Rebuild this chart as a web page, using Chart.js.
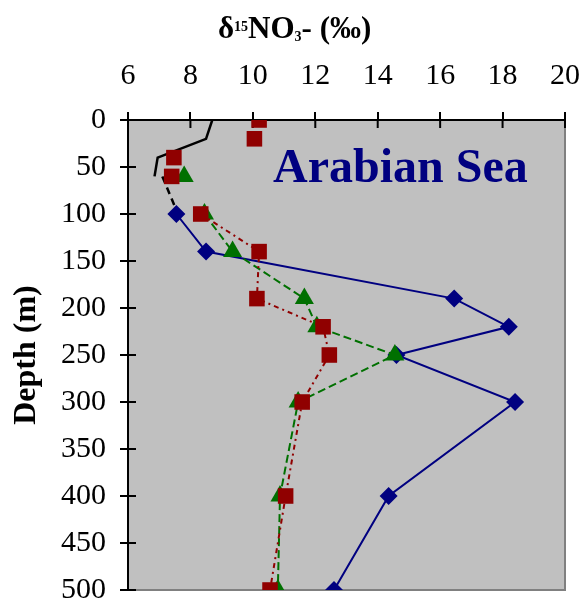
<!DOCTYPE html>
<html>
<head>
<meta charset="utf-8">
<script src="https://cdn.jsdelivr.net/npm/chart.js@4.4.1/dist/chart.umd.min.js"></script>
<style>
  html, body { margin: 0; padding: 0; background: #fff; }
  #wrap { width: 588px; height: 604px; }
</style>
</head>
<body>
<div id="wrap"><canvas id="profile" width="588" height="604"></canvas></div>
<script>
// Nitrate d15N profiles, depth (m) vs per mil
const valueTicks = [6, 8, 10, 12, 14, 16, 18, 20];
const depthTicks = [0, 50, 100, 150, 200, 250, 300, 350, 400, 450, 500];

const blueDepth = [100, 140, 190, 220, 250, 300, 400, 500];
const blueValue = [7.55, 8.5, 16.45, 18.2, 14.6, 18.4, 14.35, 12.6];

const greenDepth = [60, 100, 140, 190, 220, 250, 300, 400, 500];
const greenValue = [7.8, 8.45, 9.35, 11.65, 12.05, 14.55, 11.45, 10.87, 10.8];

const redDepth = [0, 20, 40, 60, 100, 140, 190, 220, 250, 300, 400, 500];
const redValue = [10.2, 10.05, 7.47, 7.4, 8.33, 10.2, 10.13, 12.25, 12.45, 11.58, 11.05, 10.55];

const blackDepth = [0, 20, 40, 60];
const blackValue = [8.7, 8.5, 6.95, 6.85];

const blackDashDepth = [60, 100];
const blackDashValue = [7.1, 7.6];

const serif = "'Liberation Serif', 'Times New Roman', serif";

function toPoints(values, depths) {
    return values.map((v, i) => ({ x: v, y: depths[i] }));
}

// no connecting line above 100 m
const hideUpper = {
    borderColor: ctx => ctx.p0.parsed.y < 100 ? 'rgba(0,0,0,0)' : undefined
};

const framePlugin = {
    id: 'frame',
    beforeDraw(chart) {
        const { ctx, chartArea: a } = chart;
        ctx.save();
        ctx.fillStyle = '#C0C0C0';
        ctx.fillRect(a.left, a.top, a.right - a.left, a.bottom - a.top);
        ctx.strokeStyle = '#808080';
        ctx.lineWidth = 2;
        ctx.beginPath();
        ctx.moveTo(a.right, a.top);
        ctx.lineTo(a.right, a.bottom);
        ctx.lineTo(a.left, a.bottom);
        ctx.stroke();
        ctx.restore();
    },
    beforeDatasetsDraw(chart) {
        // tick marks crossing into the plot
        const { ctx, chartArea: a, scales } = chart;
        ctx.save();
        ctx.strokeStyle = '#000';
        ctx.lineWidth = 2;
        ctx.beginPath();
        valueTicks.forEach(v => {
            const x = scales.x.getPixelForValue(v);
            ctx.moveTo(x, a.top);
            ctx.lineTo(x, a.top + 8);
        });
        depthTicks.forEach(d => {
            const y = scales.y.getPixelForValue(d);
            ctx.moveTo(a.left, y);
            ctx.lineTo(a.left + 8, y);
        });
        ctx.stroke();
        ctx.restore();
    },
    afterDraw(chart) {
        const { ctx } = chart;
        ctx.save();
        ctx.fillStyle = '#000080';
        ctx.font = 'bold 48px ' + serif;
        ctx.textBaseline = 'alphabetic';
        ctx.fillText('Arabian Sea', 273, 182);

        // axis title with super/subscripts
        ctx.fillStyle = '#000';
        const big = 'bold 31px ' + serif;
        const small = 'bold 14px ' + serif;
        const parts = [
            ['δ', big, 0],
            ['15', small, -7],
            ['NO', big, 0],
            ['3', small, 3],
            ['- (‰)', big, 0]
        ];
        let x = 218;
        const base = 38;
        parts.forEach(([t, f, dy]) => {
            ctx.font = f;
            ctx.fillText(t, x, base + dy);
            x += ctx.measureText(t).width;
        });
        ctx.restore();
    }
};

new Chart(document.getElementById('profile'), {
    type: 'line',
    data: {
        datasets: [{
            label: 'red',
            data: toPoints(redValue, redDepth),
            borderColor: '#900000',
            backgroundColor: '#900000',
            borderWidth: 2,
            borderDash: [5, 4, 2, 4],
            pointStyle: 'rect',
            pointRadius: 11,
            pointBorderWidth: 0,
            segment: hideUpper
        }, {
            label: 'green',
            data: toPoints(greenValue, greenDepth),
            borderColor: '#007000',
            backgroundColor: '#007000',
            borderWidth: 2,
            borderDash: [8, 4],
            pointStyle: 'triangle',
            pointRadius: 11,
            pointBorderWidth: 0,
            segment: hideUpper
        }, {
            label: 'blue',
            data: toPoints(blueValue, blueDepth),
            borderColor: '#000080',
            backgroundColor: '#000080',
            borderWidth: 2,
            pointStyle: 'rectRot',
            pointRadius: 9,
            pointBorderWidth: 0
        }, {
            label: 'black',
            data: toPoints(blackValue, blackDepth),
            borderColor: '#000',
            borderWidth: 2.5,
            pointRadius: 0
        }, {
            label: 'black dashed',
            data: toPoints(blackDashValue, blackDashDepth),
            borderColor: '#000',
            borderWidth: 2.5,
            borderDash: [7, 5],
            pointRadius: 0
        }]
    },
    options: {
        responsive: false,
        animation: false,
        devicePixelRatio: 1,
        layout: { padding: { left: 0, top: 0, right: 23, bottom: 14 } },
        plugins: {
            legend: { display: false },
            tooltip: { enabled: false }
        },
        scales: {
            x: {
                type: 'linear',
                position: 'top',
                min: 6,
                max: 20,
                ticks: {
                    stepSize: 2,
                    color: '#000',
                    padding: 18,
                    font: { family: serif, size: 30 }
                },
                grid: { drawOnChartArea: false, tickLength: 8, color: '#000', lineWidth: 2 },
                border: { color: '#000', width: 2 },
                afterFit(scale) {
                    scale.height = 120;
                    scale.paddingLeft = 0;
                    scale.paddingRight = 0;
                }
            },
            y: {
                type: 'linear',
                reverse: true,
                min: 0,
                max: 500,
                ticks: {
                    stepSize: 50,
                    color: '#000',
                    padding: 14,
                    font: { family: serif, size: 30 }
                },
                grid: { drawOnChartArea: false, tickLength: 8, color: '#000', lineWidth: 2 },
                border: { color: '#000', width: 2 },
                title: {
                    display: true,
                    text: 'Depth (m)',
                    color: '#000',
                    padding: { top: 8, bottom: 0 },
                    font: { family: serif, size: 32, weight: 'bold' }
                },
                afterFit(scale) {
                    scale.width = 128;
                    scale.paddingTop = 0;
                    scale.paddingBottom = 0;
                }
            }
        }
    },
    plugins: [framePlugin]
});
</script>
</body>
</html>
